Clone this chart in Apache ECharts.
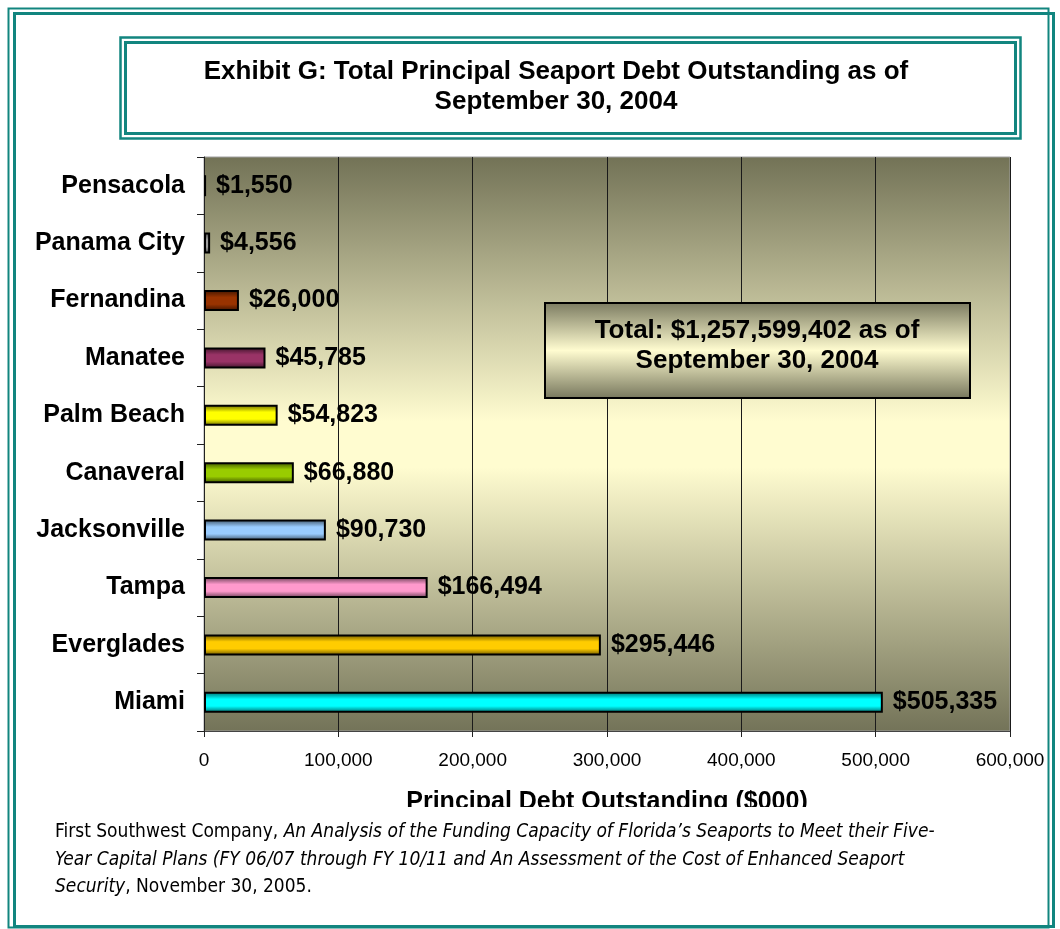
<!DOCTYPE html>
<html>
<head>
<meta charset="utf-8">
<script src="https://cdn.jsdelivr.net/npm/echarts@6/dist/echarts.min.js"></script>
<style>
html,body{margin:0;padding:0;background:#fff;}
#c{width:1060px;height:929px;}
</style>
</head>
<body>
<div id="c"></div>
<script>
const categories = ['Pensacola','Panama City','Fernandina','Manatee','Palm Beach','Canaveral','Jacksonville','Tampa','Everglades','Miami'];
const debtValues = [1550, 4556, 26000, 45785, 54823, 66880, 90730, 166494, 295446, 505335];
const barColors = ['#1a1a1a','#a0a0a0','#993300','#993366','#ffff00','#99cc00','#99ccff','#ff99cc','#ffcc00','#00ffff'];
const xTicks = [0, 100000, 200000, 300000, 400000, 500000, 600000];
const titleLines = ['Exhibit G: Total Principal Seaport Debt Outstanding as of', 'September 30, 2004'];
const totalLines = ['Total: $1,257,599,402 as of', 'September 30, 2004'];
const axisTitle = 'Principal Debt Outstanding ($000)';

function shade(hex, f) {
  const n = parseInt(hex.slice(1), 16);
  let r = (n >> 16) & 255, g = (n >> 8) & 255, b = n & 255;
  r = Math.round(r * f); g = Math.round(g * f); b = Math.round(b * f);
  return 'rgb(' + r + ',' + g + ',' + b + ')';
}
function fmt(v) { return v.toString().replace(/\B(?=(\d{3})+(?!\d))/g, ','); }

const barData = debtValues.map((v, i) => ({
  value: v,
  itemStyle: {
    color: {
      type: 'linear', x: 0, y: 0, x2: 0, y2: 1,
      colorStops: [
        {offset: 0, color: shade(barColors[i], 0.4)},
        {offset: 0.35, color: barColors[i]},
        {offset: 0.68, color: barColors[i]},
        {offset: 1, color: shade(barColors[i], 0.4)}
      ]
    }
  }
}));

const teal = '#12857f';
const FONT = '"Liberation Sans", Arial, sans-serif';
const NARROW = '"Liberation Sans Narrow", "DejaVu Sans Condensed", "Liberation Sans", sans-serif';

const chart = echarts.init(document.getElementById('c'), null, {renderer: 'canvas'});
chart.setOption({
  backgroundColor: '#ffffff',
  animation: false,
  grid: {
    left: 204, right: 50, top: 157, bottom: 198,
    show: true, borderWidth: 1, borderColor: '#a0a0a0',
    backgroundColor: {
      type: 'linear', x: 0, y: 0, x2: 0, y2: 1,
      colorStops: [
        {offset: 0, color: '#727256'},
        {offset: 0.46, color: '#fffcd0'},
        {offset: 0.54, color: '#fffcd0'},
        {offset: 1, color: '#737358'}
      ]
    }
  },
  xAxis: {
    type: 'value', min: 0, max: 600000, interval: 100000,
    axisLine: {show: true, lineStyle: {color: '#444', width: 1}},
    axisTick: {show: true, length: 6, lineStyle: {color: '#222'}},
    axisLabel: {fontFamily: FONT, fontSize: 19, color: '#000', margin: 20,
      formatter: v => xTicks.includes(v) ? fmt(v) : ''},
    splitLine: {show: true, lineStyle: {color: '#1a1a1a', width: 1}},
    name: axisTitle, nameLocation: 'middle', nameGap: 59,
    nameTextStyle: {fontFamily: FONT, fontSize: 25, fontWeight: 'bold', color: '#000'}
  },
  yAxis: {
    type: 'category', data: categories, inverse: true,
    axisLine: {show: true, lineStyle: {color: '#222', width: 1}},
    axisTick: {show: true, length: 7, lineStyle: {color: '#222'}},
    axisLabel: {fontFamily: FONT, fontSize: 25, fontWeight: 'bold', color: '#000', margin: 19}
  },
  series: [{
    type: 'bar', data: barData, barWidth: 21,
    itemStyle: {borderColor: '#000', borderWidth: 2},
    label: {show: true, position: 'right', distance: 10,
      fontFamily: FONT, fontSize: 25, fontWeight: 'bold', color: '#000',
      formatter: p => '$' + fmt(p.value)}
  }],
  graphic: [
    {type: 'rect', shape: {x: 8.5, y: 8.5, width: 1040, height: 919}, style: {fill: null, stroke: teal, lineWidth: 2}, silent: true},
    {type: 'rect', shape: {x: 14.5, y: 13.5, width: 1039, height: 913}, style: {fill: null, stroke: teal, lineWidth: 3}, silent: true},
    {type: 'rect', shape: {x: 120.5, y: 37.5, width: 900, height: 101}, style: {fill: '#fff', stroke: teal, lineWidth: 2.5}, silent: true},
    {type: 'rect', shape: {x: 125.5, y: 42.5, width: 890, height: 91}, style: {fill: null, stroke: teal, lineWidth: 3}, silent: true},
    {type: 'text', x: 556, y: 72, style: {text: titleLines[0], fontFamily: FONT, fontSize: 26, fontWeight: 'bold', fill: '#000', align: 'center', verticalAlign: 'middle'}},
    {type: 'text', x: 556, y: 102, style: {text: titleLines[1], fontFamily: FONT, fontSize: 26, fontWeight: 'bold', fill: '#000', align: 'center', verticalAlign: 'middle'}},
    {type: 'rect', shape: {x: 545, y: 303, width: 425, height: 95},
      style: {stroke: '#000', lineWidth: 2,
        fill: {type: 'linear', x: 0, y: 0, x2: 0, y2: 1, colorStops: [
          {offset: 0, color: '#7a7a60'}, {offset: 0.5, color: '#fffcd0'}, {offset: 1, color: '#76765c'}]}},
      z: 100, silent: true},
    {type: 'text', x: 757, y: 331, z: 101, style: {text: totalLines[0], fontFamily: FONT, fontSize: 26, fontWeight: 'bold', fill: '#000', align: 'center', verticalAlign: 'middle'}},
    {type: 'text', x: 757, y: 361, z: 101, style: {text: totalLines[1], fontFamily: FONT, fontSize: 26, fontWeight: 'bold', fill: '#000', align: 'center', verticalAlign: 'middle'}},
    {type: 'rect', shape: {x: 300, y: 807, width: 620, height: 13}, style: {fill: '#fff'}, z: 100, silent: true},
    {type: 'text', x: 55, y: 832, z: 101, style: {
      rich: {n: {fontFamily: NARROW, fontSize: 19, fill: '#000'}, i: {fontFamily: NARROW, fontSize: 19, fontStyle: 'italic', fill: '#000'}},
      text: '{n|First Southwest Company, }{i|An Analysis of the Funding Capacity of Florida\u2019s Seaports to Meet their Five-}',
      verticalAlign: 'middle'}},
    {type: 'text', x: 55, y: 860, z: 101, style: {
      rich: {i: {fontFamily: NARROW, fontSize: 19, fontStyle: 'italic', fill: '#000'}},
      text: '{i|Year Capital Plans (FY 06/07 through FY 10/11 and An Assessment of the Cost of Enhanced Seaport}',
      verticalAlign: 'middle'}},
    {type: 'text', x: 55, y: 887, z: 101, style: {
      rich: {n: {fontFamily: NARROW, fontSize: 19, fill: '#000'}, i: {fontFamily: NARROW, fontSize: 19, fontStyle: 'italic', fill: '#000'}},
      text: '{i|Security}{n|, November 30, 2005.}',
      verticalAlign: 'middle'}}
  ]
});
</script>
</body>
</html>
